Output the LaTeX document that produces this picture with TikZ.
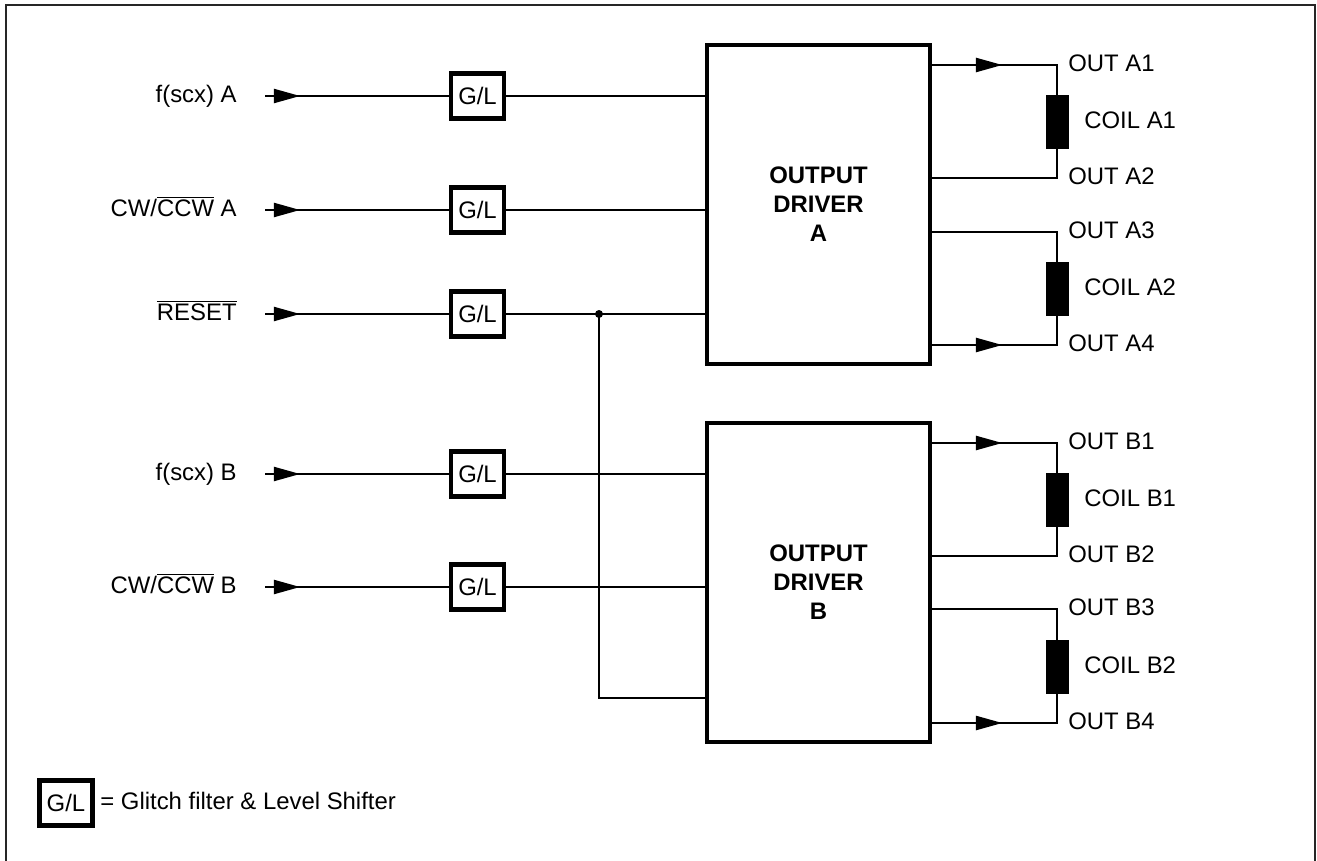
\documentclass[tikz,border=0pt]{standalone}
\usepackage{fontspec}
\setmainfont{Liberation Sans}
\usetikzlibrary{arrows.meta, positioning, calc, decorations.markings}
\newcommand{\diagfont}{\fontsize{13.6}{16.5}\selectfont}
\newcommand{\barred}[1]{$\overline{\mbox{#1}}$}

\begin{document}
\begin{tikzpicture}[x=0.02cm, y=-0.02cm,
  wire/.style={line width=1.25pt},
  glbox/.style={draw, line width=2.3pt, minimum width=1.06cm, minimum height=0.9cm, inner sep=0pt, font=\diagfont},
  driver/.style={draw, line width=2.3pt, minimum width=4.46cm, minimum height=6.38cm, align=center, font=\diagfont\bfseries},
  coil/.style={fill=black, minimum width=0.46cm, minimum height=1.08cm, inner sep=0pt},
  lbl/.style={inner sep=0pt, font=\diagfont, text height=1.38ex, text depth=0pt},
  inarrow/.style={postaction={decorate}, decoration={markings,
    mark=at position 20pt with {\arrow{Triangle[length=15pt, width=8pt]}}}},
  outarrow/.style={postaction={decorate}, decoration={markings,
    mark=at position 40pt with {\arrow{Triangle[length=15pt, width=8pt]}}}}
]
  \useasboundingbox (0,0) rectangle (1317,861);
  \draw[line width=1.1pt, black!85] (6,861) -- (6,5) -- (1315,5) -- (1315,861);

  % drivers
  \node[driver] (drvA) at (818.5,204.5) {OUTPUT\\DRIVER\\A};
  \node[driver] (drvB) at (818.5,582.5) {OUTPUT\\DRIVER\\B};

  % inputs
  \node[lbl, anchor=east] (lf1) at (237,96) {f(scx) A};
  \node[lbl, anchor=east] (lc1) at (237,210) {CW/\barred{CCW} A};
  \node[lbl, anchor=east] (lr) at (237,314) {\barred{RESET}};
  \node[lbl, anchor=east] (lf2) at (237,474) {f(scx) B};
  \node[lbl, anchor=east] (lc2) at (237,587) {CW/\barred{CCW} B};

  \coordinate (i1) at (265,96);
  \coordinate (i2) at (265,210);
  \coordinate (i3) at (265,314);
  \coordinate (i4) at (265,474);
  \coordinate (i5) at (265,587);

  \node[glbox] (g1) at (477.5,96) {G/L};
  \node[glbox] (g2) at (477.5,210) {G/L};
  \node[glbox] (g3) at (477.5,314) {G/L};
  \node[glbox] (g4) at (477.5,474) {G/L};
  \node[glbox] (g5) at (477.5,587) {G/L};

  \foreach \k in {1,...,5}
    \draw[wire, inarrow] (i\k) -- (g\k.west);

  \draw[wire] (g1.east) -- (g1.east -| drvA.west);
  \draw[wire] (g2.east) -- (g2.east -| drvA.west);
  \draw[wire] (g3.east) -- (g3.east -| drvA.west);
  \draw[wire] (g4.east) -- (g4.east -| drvB.west);
  \draw[wire] (g5.east) -- (g5.east -| drvB.west);

  % reset to driver B
  \coordinate (j) at (599,314);
  \coordinate (jb) at (599,698);
  \draw[wire] (j) -- (jb) -- (jb -| drvB.west);
  \fill (j) circle (4);

  % coils
  \node[coil] (cA1) at (1057,122) {};
  \node[coil] (cA2) at (1057,289) {};
  \node[coil] (cB1) at (1057,500) {};
  \node[coil] (cB2) at (1057,667) {};

  \coordinate (oa1) at (1057,65);
  \coordinate (oa2) at (1057,178);
  \coordinate (oa3) at (1057,232);
  \coordinate (oa4) at (1057,345);
  \coordinate (ob1) at (1057,443);
  \coordinate (ob2) at (1057,556);
  \coordinate (ob3) at (1057,609);
  \coordinate (ob4) at (1057,723);

  \draw[wire, outarrow] (oa1 -| drvA.east) -- (oa1) -- (cA1.north);
  \draw[wire] (oa2 -| drvA.east) -- (oa2) -- (cA1.south);
  \draw[wire] (oa3 -| drvA.east) -- (oa3) -- (cA2.north);
  \draw[wire, outarrow] (oa4 -| drvA.east) -- (oa4) -- (cA2.south);
  \draw[wire, outarrow] (ob1 -| drvB.east) -- (ob1) -- (cB1.north);
  \draw[wire] (ob2 -| drvB.east) -- (ob2) -- (cB1.south);
  \draw[wire] (ob3 -| drvB.east) -- (ob3) -- (cB2.north);
  \draw[wire, outarrow] (ob4 -| drvB.east) -- (ob4) -- (cB2.south);

  \node[lbl, anchor=west] (na1) at (1068,65) {OUT A1};
  \node[lbl, anchor=west] (na2) at (1068,178) {OUT A2};
  \node[lbl, anchor=west] (na3) at (1068,232) {OUT A3};
  \node[lbl, anchor=west] (na4) at (1068,345) {OUT A4};
  \node[lbl, anchor=west] (nb1) at (1068,443) {OUT B1};
  \node[lbl, anchor=west] (nb2) at (1068,556) {OUT B2};
  \node[lbl, anchor=west] (nb3) at (1068,609) {OUT B3};
  \node[lbl, anchor=west] (nb4) at (1068,723) {OUT B4};

  \node[lbl, anchor=west] (kA1) at (1084,122) {COIL A1};
  \node[lbl, anchor=west] (kA2) at (1084,289) {COIL A2};
  \node[lbl, anchor=west] (kB1) at (1084,500) {COIL B1};
  \node[lbl, anchor=west] (kB2) at (1084,667) {COIL B2};

  % legend
  \node[glbox] (key) at (66,803) {G/L};
  \node[lbl, anchor=west] (keytxt) at (100,803) {= Glitch filter \& Level Shifter};
\end{tikzpicture}
\end{document}
